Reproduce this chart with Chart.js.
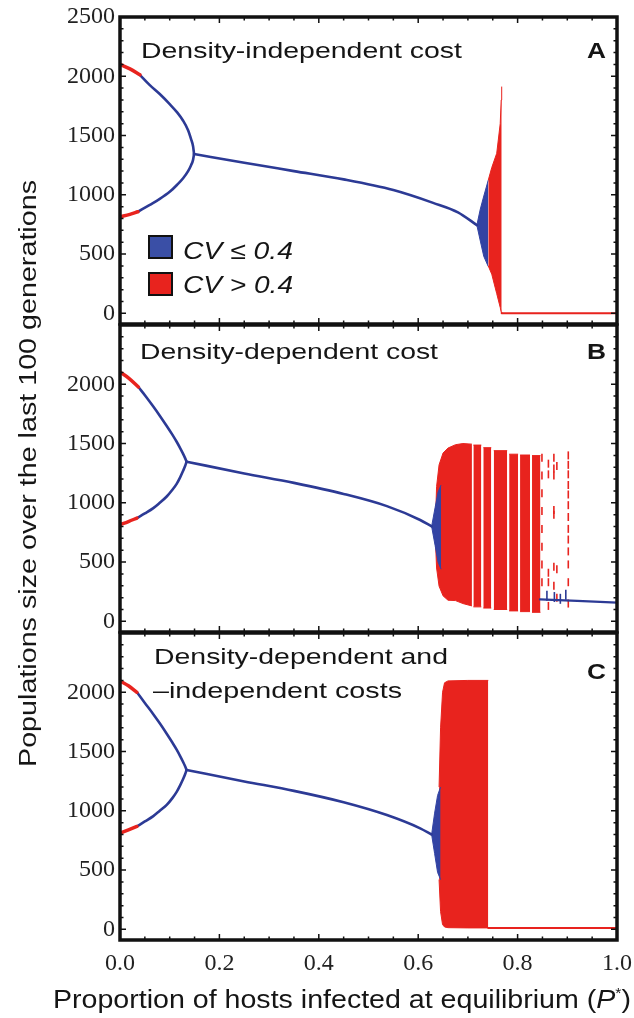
<!DOCTYPE html>
<html><head><meta charset="utf-8">
<script src="https://cdn.jsdelivr.net/npm/chart.js@4.4.1/dist/chart.umd.min.js"></script>
<style>
html,body{margin:0;padding:0;background:#fff;}
#wrap{position:relative;width:634px;height:1018px;overflow:hidden;background:#fff;}
canvas{position:absolute;left:0;}
.t{position:absolute;white-space:nowrap;font-family:"Liberation Sans",Arial,sans-serif;color:#151515;line-height:1;transform-origin:0 0;}
.sq{position:absolute;width:21px;height:20px;border:2px solid #111;}
</style></head><body>
<div id="wrap">
<canvas id="cA" style="top:0px" width="634" height="330"></canvas>
<canvas id="cB" style="top:310px" width="634" height="330"></canvas>
<canvas id="cC" style="top:618px" width="634" height="400"></canvas>
</div>
<script>
// ---------- DATA ----------
const xTickLabels = [0.0, 0.2, 0.4, 0.6, 0.8, 1.0];
const yTickLabels = [0, 500, 1000, 1500, 2000, 2500];

// Panel A: density-independent cost
const aUpRedX = [0, 0.02, 0.04];
const aUpRedY = [2100, 2062, 2012];
const aUpBlueX = [0.04, 0.06, 0.08, 0.10, 0.115, 0.127, 0.137, 0.143, 0.147, 0.149];
const aUpBlueY = [2012, 1925, 1850, 1765, 1695, 1625, 1545, 1470, 1410, 1344];
const aLoRedX = [0, 0.02, 0.036];
const aLoRedY = [814, 835, 857];
const aLoBlueX = [0.036, 0.06, 0.08, 0.10, 0.115, 0.127, 0.137, 0.143, 0.147, 0.149];
const aLoBlueY = [857, 915, 965, 1025, 1085, 1140, 1200, 1250, 1295, 1344];
const aMainX = [0.149, 0.25, 0.35, 0.45, 0.55, 0.63, 0.68, 0.718];
const aMainY = [1344, 1270, 1200, 1130, 1040, 932, 852, 744];
const aFanBlueX = [0.718, 0.725, 0.732, 0.741];
const aFanBlueHi = [744, 880, 990, 1124];
const aFanBlueLo = [744, 610, 480, 395];
const aFanRedX = [0.741, 0.748, 0.758, 0.765, 0.767, 0.768];
const aFanRedHi = [1124, 1230, 1350, 1600, 1800, 1913];
const aFanRedLo = [400, 330, 166, 50, 10, 0];
const aZeroX = [0.768, 1.0];
const aZeroY = [0, 0];

// Panel B: density-dependent cost
const bUpRedX = [0, 0.018, 0.037];
const bUpRedY = [2103, 2050, 1977];
const bUpBlueX = [0.037, 0.052, 0.067, 0.08, 0.094, 0.105, 0.114, 0.121, 0.127, 0.131, 0.134];
const bUpBlueY = [1977, 1897, 1812, 1735, 1648, 1577, 1515, 1462, 1413, 1377, 1347];
const bLoRedX = [0, 0.017, 0.034];
const bLoRedY = [815, 842, 871];
const bLoBlueX = [0.034, 0.05, 0.067, 0.08, 0.094, 0.105, 0.114, 0.121, 0.127, 0.131, 0.134];
const bLoBlueY = [871, 910, 955, 1000, 1053, 1108, 1160, 1215, 1270, 1310, 1347];
const bMainX = [0.134, 0.25, 0.35, 0.45, 0.537, 0.604, 0.627];
const bMainY = [1347, 1248, 1168, 1075, 972, 855, 801];
const bFanBlueX = [0.627, 0.634, 0.64, 0.646];
const bFanBlueHi = [801, 960, 1090, 1150];
const bFanBlueLo = [801, 640, 500, 440];
const bBand1X = [0.634, 0.637, 0.642, 0.65, 0.66, 0.675, 0.69, 0.708];
const bBand1Hi = [748, 1137, 1320, 1420, 1462, 1490, 1500, 1495];
const bBand1Lo = [748, 450, 297, 215, 178, 175, 150, 130];
const bBandsX0 = [0.711, 0.731, 0.752, 0.783, 0.805, 0.829];
const bBandsX1 = [0.727, 0.747, 0.779, 0.801, 0.825, 0.846];
const bBandsHi = [1487, 1465, 1440, 1410, 1403, 1398];
const bBandsLo = [122, 112, 100, 88, 82, 76];
const bSparseX = [0.849,0.849,0.849,0.849,0.849,0.849,0.849,0.849,
                  0.862,0.862,0.862,0.862,0.862,
                  0.873,0.873,0.873,0.873,0.873,0.873,0.873,
                  0.879,0.879,0.879,
                  0.902,0.902,0.902,0.902,0.902,0.902,0.902,0.902,0.902,0.902,0.902,0.902,0.902];
const bSparseY = [1380,1230,1080,930,780,630,480,330,
                  1330,1240,410,330,130,
                  1380,1290,1230,940,900,460,300,
                  1310,440,200,
                  1400,1320,1240,1150,1070,980,880,780,690,590,480,330,150];
const bTailX = [0.845, 0.92, 1.0];
const bTailY = [185, 172, 157];
const bTailDashX = [0.859, 0.874, 0.886, 0.897];
const bTailDashY = [215, 205, 190, 225];

// Panel C: density-dependent and -independent costs
const cUpRedX = [0, 0.017, 0.034];
const cUpRedY = [2096, 2055, 2000];
const cUpBlueX = [0.034, 0.05, 0.067, 0.08, 0.094, 0.105, 0.114, 0.121, 0.127, 0.131, 0.134];
const cUpBlueY = [2000, 1910, 1815, 1738, 1650, 1578, 1516, 1462, 1412, 1376, 1345];
const cLoRedX = [0, 0.017, 0.034];
const cLoRedY = [812, 840, 868];
const cLoBlueX = [0.034, 0.05, 0.067, 0.08, 0.094, 0.105, 0.114, 0.121, 0.127, 0.131, 0.134];
const cLoBlueY = [868, 910, 955, 1000, 1050, 1105, 1160, 1215, 1268, 1308, 1345];
const cMainX = [0.134, 0.25, 0.35, 0.45, 0.537, 0.604, 0.627];
const cMainY = [1345, 1248, 1168, 1072, 964, 852, 800];
const cFanBlueX = [0.627, 0.633, 0.639, 0.645];
const cFanBlueHi = [800, 980, 1130, 1200];
const cFanBlueLo = [800, 640, 480, 420];
const cRedX = [0.642, 0.645, 0.649, 0.653, 0.66, 0.70, 0.741];
const cRedHi = [1200, 1700, 2000, 2080, 2096, 2100, 2100];
const cRedLo = [420, 150, 40, 20, 14, 12, 12];
const cZeroX = [0.741, 1.0];
const cZeroY = [12, 12];

// ---------- HELPERS ----------
const RED = '#e8231e', BLUE = '#2c3a95', BLUEF = '#3243a3';
const P = (xs, ys) => xs.map((x, i) => ({x, y: ys[i]}));
function line(xs, ys, color, w, order, smooth) {
  return {data: P(xs, ys), borderColor: color, borderWidth: w, pointRadius: 0, fill: false, order,
          cubicInterpolationMode: smooth ? 'monotone' : 'default', tension: 0, borderCapStyle: 'round'};
}
function band(xs, hi, lo, color, order) {
  return [
    {data: P(xs, lo), borderColor: color, borderWidth: 1, pointRadius: 0, fill: false, order},
    {data: P(xs, hi), borderColor: color, borderWidth: 1, pointRadius: 0, fill: '-1', backgroundColor: color, order}
  ];
}
function dashes(xs, ys, color, r, order) {
  return {data: P(xs, ys), showLine: false, pointStyle: 'line', pointRotation: 90, pointRadius: r,
          pointBorderColor: color, pointBorderWidth: 1.6, borderColor: color, order};
}

const framePlugin = {
  id: 'frame',
  afterDraw(chart) {
    const {ctx, chartArea: a, scales: {x, y}} = chart;
    ctx.save();
    ctx.strokeStyle = '#111';
    ctx.lineWidth = 1.5;
    ctx.beginPath();
    for (let i = 0; i <= 20; i++) {
      const px = x.getPixelForValue(i * 0.05);
      const len = (i % 4 === 0) ? 6 : 3.5;
      ctx.moveTo(px, a.top); ctx.lineTo(px, a.top + len);
      ctx.moveTo(px, a.bottom); ctx.lineTo(px, a.bottom - len);
    }
    for (let v = 0; v <= 2500; v += 100) {
      const py = y.getPixelForValue(v);
      if (py < a.top + 1) continue;
      const len = (v % 500 === 0) ? 6 : 3.5;
      ctx.moveTo(a.left, py); ctx.lineTo(a.left + len, py);
      ctx.moveTo(a.right, py); ctx.lineTo(a.right - len, py);
    }
    ctx.stroke();
    ctx.lineWidth = 3.5;
    ctx.strokeRect(a.left, a.top, a.right - a.left, a.bottom - a.top);
    ctx.restore();
  }
};

function makeChart(id, datasets, o) {
  return new Chart(document.getElementById(id), {
    type: 'line',
    data: {datasets},
    options: {
      responsive: false, animation: false, devicePixelRatio: 1,
      layout: {autoPadding: false, padding: o.padding},
      plugins: {legend: {display: false}, tooltip: {enabled: false}},
      elements: {point: {radius: 0}},
      scales: {
        x: {type: 'linear', min: 0, max: 1, display: o.showX,
            afterBuildTicks(s) { s.ticks = xTickLabels.map(v => ({value: v})); },
            afterFit(s) { if (o.showX) s.height = 40; s.paddingLeft = 0; s.paddingRight = 0; },
            grid: {display: false, drawTicks: false}, border: {display: false},
            ticks: {padding: 9, maxRotation: 0, minRotation: 0, autoSkip: false, color: '#222',
                    font: {family: '"Liberation Serif", "Times New Roman", serif', size: 24},
                    callback: v => Number(v).toFixed(1)}},
        y: {type: 'linear', min: -90, max: 2500,
            afterBuildTicks(s) { s.ticks = yTickLabels.map(v => ({value: v})); },
            afterFit(s) { s.width = 120; s.paddingTop = 0; s.paddingBottom = 0; },
            grid: {display: false, drawTicks: false}, border: {display: false},
            ticks: {autoSkip: false, padding: 5, color: '#222',
                    font: {family: '"Liberation Serif", "Times New Roman", serif', size: 24},
                    callback: v => (v !== 2500 || o.show2500) ? String(v) : ''}}
      }
    },
    plugins: [framePlugin]
  });
}

// ---------- CHARTS ----------
makeChart('cA', [
  line(aUpRedX, aUpRedY, RED, 3.5, 1, true),
  line(aLoRedX, aLoRedY, RED, 3.5, 1, true),
  line(aUpBlueX, aUpBlueY, BLUE, 2.6, 2, true),
  line(aLoBlueX, aLoBlueY, BLUE, 2.6, 2, true),
  line(aMainX, aMainY, BLUE, 2.6, 2, true),
  ...band(aFanBlueX, aFanBlueHi, aFanBlueLo, BLUEF, 4),
  ...band(aFanRedX, aFanRedHi, aFanRedLo, RED, 3),
  line(aZeroX, aZeroY, RED, 2, 3, false)
], {padding: {top: 17, right: 17, bottom: 6, left: 0}, showX: false, show2500: true});

const bBandSets = [];
bBandsX0.forEach((x0, i) => bBandSets.push(...band([x0, bBandsX1[i]], [bBandsHi[i], bBandsHi[i]], [bBandsLo[i], bBandsLo[i]], RED, 5)));

makeChart('cB', [
  line(bUpRedX, bUpRedY, RED, 3.5, 1, true),
  line(bLoRedX, bLoRedY, RED, 3.5, 1, true),
  line(bUpBlueX, bUpBlueY, BLUE, 2.6, 2, true),
  line(bLoBlueX, bLoBlueY, BLUE, 2.6, 2, true),
  line(bMainX, bMainY, BLUE, 2.6, 2, true),
  ...band(bFanBlueX, bFanBlueHi, bFanBlueLo, BLUEF, 4),
  ...band(bBand1X, bBand1Hi, bBand1Lo, RED, 5),
  ...bBandSets,
  dashes(bSparseX, bSparseY, RED, 4, 3),
  line(bTailX, bTailY, BLUE, 2.2, 2, false),
  dashes(bTailDashX, bTailDashY, BLUE, 5, 2)
], {padding: {top: 15, right: 17, bottom: 8, left: 0}, showX: false, show2500: false});

makeChart('cC', [
  line(cUpRedX, cUpRedY, RED, 3.5, 1, true),
  line(cLoRedX, cLoRedY, RED, 3.5, 1, true),
  line(cUpBlueX, cUpBlueY, BLUE, 2.6, 2, true),
  line(cLoBlueX, cLoBlueY, BLUE, 2.6, 2, true),
  line(cMainX, cMainY, BLUE, 2.6, 2, true),
  ...band(cFanBlueX, cFanBlueHi, cFanBlueLo, BLUEF, 4),
  ...band(cRedX, cRedHi, cRedLo, RED, 5),
  line(cZeroX, cZeroY, RED, 2, 3, false)
], {padding: {top: 15, right: 17, bottom: 38, left: 0}, showX: true, show2500: false});

// ---------- TEXT ----------
const wrap = document.getElementById('wrap');
function text(html, o) {
  const el = document.createElement('div');
  el.className = 't';
  el.innerHTML = html;
  el.style.fontSize = o.size + 'px';
  if (o.weight) el.style.fontWeight = o.weight;
  if (o.italic) el.style.fontStyle = 'italic';
  wrap.appendChild(el);
  const w = el.getBoundingClientRect().width;
  const s = o.width ? o.width / w : 1;
  if (o.rotate) {
    el.style.left = (o.baseX - 0.8465 * o.size) + 'px';
    el.style.top = o.startY + 'px';
    el.style.transform = 'rotate(-90deg) scaleX(' + s + ')';
  } else {
    el.style.left = o.left + 'px';
    el.style.top = (o.baseline - 0.8465 * o.size) + 'px';
    el.style.transform = 'scaleX(' + s + ')';
  }
  return el;
}
text('Density-independent cost', {left: 141, baseline: 58.5, width: 321, size: 22});
text('A', {left: 587, baseline: 58.5, width: 19, size: 22, weight: 'bold'});
text('Density-dependent cost', {left: 140, baseline: 360, width: 298, size: 22});
text('B', {left: 587, baseline: 360, width: 19, size: 22, weight: 'bold'});
text('Density-dependent and', {left: 154, baseline: 665, width: 294, size: 22});
text('–independent costs', {left: 153, baseline: 699, width: 249, size: 22});
text('C', {left: 587, baseline: 680, width: 19, size: 22, weight: 'bold'});
text('CV ≤ 0.4', {left: 183, baseline: 259, width: 110, size: 24, italic: true});
text('CV &gt; 0.4', {left: 183, baseline: 293, width: 110, size: 24, italic: true});
text('Proportion of hosts infected at equilibrium (<i>P</i><span style="font-size:0.55em;position:relative;top:-0.75em">*</span>)',
     {left: 53, baseline: 1008, width: 578, size: 25});
text('Populations size over the last 100 generations', {rotate: true, baseX: 36.5, startY: 767, width: 587, size: 23});

const sq1 = document.createElement('div'); sq1.className = 'sq';
sq1.style.cssText = 'left:148px;top:235px;background:#3a4fa6;';
const sq2 = document.createElement('div'); sq2.className = 'sq';
sq2.style.cssText = 'left:148px;top:272px;background:#e8231e;';
wrap.appendChild(sq1); wrap.appendChild(sq2);
</script>
</body></html>
